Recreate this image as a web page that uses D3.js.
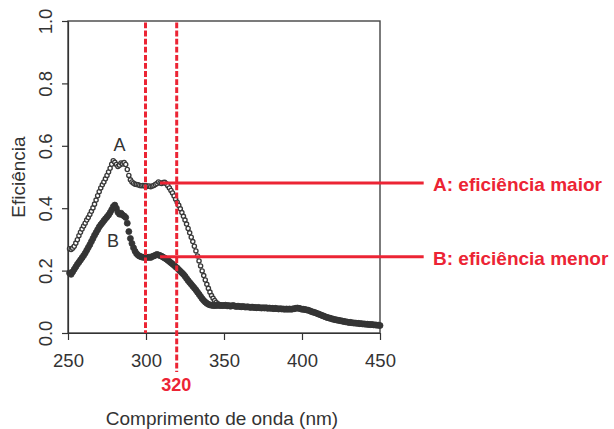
<!DOCTYPE html>
<html>
<head>
<meta charset="utf-8">
<script src="https://cdn.jsdelivr.net/npm/d3@7"></script>
<style>
  html, body { margin: 0; padding: 0; background: #fff; }
  svg { display: block; font-family: "Liberation Sans", Arial, Helvetica, sans-serif; }
</style>
</head>
<body>
<svg id="chart" width="614" height="429"></svg>
<script>
// ---------------- data ----------------
const wavelengths = d3.range(251, 451); // nm, 1 nm steps (251..450)

const seriesA = [
  .270,.268,.272,.278,.288,.299,.312,.323,.333,.343,
  .352,.362,.370,.380,.390,.401,.413,.426,.440,.453,
  .465,.475,.484,.494,.505,.516,.528,.541,.552,.547,
  .540,.534,.538,.545,.542,.546,.540,.524,.505,.491,
  .484,.480,.477,.476,.475,.473,.472,.473,.471,.472,
  .470,.471,.469,.471,.473,.476,.479,.484,.481,.479,
  .482,.483,.478,.472,.465,.457,.449,.439,.429,.419,
  .409,.398,.386,.374,.362,.349,.335,.321,.307,.293,
  .278,.263,.247,.231,.215,.199,.184,.170,.156,.143,
  .131,.120,.111,.104,.098,.094,.091,.089,.088,.088,
  .089,.087,.088,.086,.087,.088,.086,.085,.086,.085,
  .084,.085,.084,.083,.084,.083,.082,.083,.082,.082,
  .081,.082,.081,.080,.081,.080,.081,.079,.080,.079,
  .079,.078,.079,.078,.077,.078,.077,.077,.076,.077,
  .076,.077,.076,.077,.078,.079,.080,.079,.078,.076,
  .076,.075,.074,.073,.071,.069,.067,.066,.064,.062,
  .060,.058,.056,.054,.052,.050,.049,.047,.046,.044,
  .043,.042,.041,.040,.039,.038,.037,.036,.035,.034,
  .034,.033,.032,.032,.031,.031,.030,.030,.029,.029,
  .028,.028,.027,.027,.027,.026,.026,.025,.025,.024
];

const seriesB = [
  .192,.188,.196,.204,.212,.220,.227,.234,.241,.248,
  .256,.265,.274,.283,.293,.303,.313,.322,.331,.340,
  .347,.353,.360,.366,.372,.378,.386,.395,.405,.410,
  .400,.387,.381,.384,.378,.375,.370,.352,.325,.303,
  .287,.273,.262,.254,.249,.246,.244,.243,.242,.243,
  .242,.243,.242,.245,.247,.249,.252,.250,.248,.246,
  .243,.240,.237,.233,.229,.225,.221,.217,.212,.208,
  .203,.198,.193,.188,.182,.175,.168,.162,.156,.150,
  .144,.138,.131,.124,.117,.110,.104,.099,.095,.092,
  .090,.089,.088,.088,.088,.089,.088,.088,.088,.088,
  .089,.087,.088,.086,.087,.088,.086,.085,.086,.085,
  .084,.085,.084,.083,.084,.083,.082,.083,.082,.082,
  .081,.082,.081,.080,.081,.080,.081,.079,.080,.079,
  .079,.078,.079,.078,.077,.078,.077,.077,.076,.077,
  .076,.077,.076,.077,.078,.079,.080,.079,.078,.076,
  .076,.075,.074,.073,.071,.069,.067,.066,.064,.062,
  .060,.058,.056,.054,.052,.050,.049,.047,.046,.044,
  .043,.042,.041,.040,.039,.038,.037,.036,.035,.034,
  .034,.033,.032,.032,.031,.031,.030,.030,.029,.029,
  .028,.028,.027,.027,.027,.026,.026,.025,.025,.024
];

const xTicks = [250, 300, 350, 400, 450];
const yTicks = [0.0, 0.2, 0.4, 0.6, 0.8, 1.0];
const markedWavelengths = [300, 320];
const annotationLabels = ["A: eficiência maior", "B: eficiência menor"];
const annotationValues = [0.481, 0.244];
const curveLabels = ["A", "B"];
const curveLabelPos = [[283, 0.583], [278.8, 0.276]];
const xTitle = "Comprimento de onda (nm)";
const yTitle = "Eficiência";

// ---------------- layout ----------------
const svg = d3.select("#chart");
const L = 68, R = 380, T = 21, B = 333;
const ink = "#333333";
const red = "#ec2434";

const x = d3.scaleLinear().domain([250, 450]).range([L, R]);
const y = d3.scaleLinear().domain([0, 1]).range([B, T]);

// box
svg.append("rect")
  .attr("x", L).attr("y", T).attr("width", R - L).attr("height", B - T)
  .attr("fill", "none").attr("stroke", "#444").attr("stroke-width", 1.4);

// x axis
const gx = svg.append("g").attr("transform", `translate(0,${B})`)
  .call(d3.axisBottom(x).tickValues(xTicks).tickSize(7).tickSizeOuter(0));
gx.select(".domain").attr("stroke", ink).attr("stroke-width", 1.2);
gx.selectAll(".tick line").attr("stroke", ink).attr("stroke-width", 1.2);
gx.selectAll(".tick text")
  .attr("y", 33.5).attr("dy", null)
  .attr("fill", ink).attr("font-size", 18.5)
  .attr("font-family", "Liberation Sans, Arial, sans-serif");

// y axis
const gy = svg.append("g").attr("transform", `translate(${L},0)`)
  .call(d3.axisLeft(y).tickValues(yTicks).tickFormat(d3.format(".1f")).tickSize(6).tickSizeOuter(0));
gy.select(".domain").attr("stroke", ink).attr("stroke-width", 1.2);
gy.selectAll(".tick line").attr("stroke", ink).attr("stroke-width", 1.2);
gy.selectAll(".tick text")
  .attr("x", null).attr("y", null).attr("dy", null)
  .attr("transform", "translate(-16.5,0) rotate(-90)")
  .attr("text-anchor", "middle")
  .attr("fill", ink).attr("font-size", 18.5)
  .attr("font-family", "Liberation Sans, Arial, sans-serif");

// axis titles
svg.append("text")
  .attr("x", 222).attr("y", 424.5)
  .attr("text-anchor", "middle").attr("fill", ink).attr("font-size", 19)
  .text(xTitle);
svg.append("text")
  .attr("transform", `translate(25,${(T + B) / 2}) rotate(-90)`)
  .attr("text-anchor", "middle").attr("fill", ink).attr("font-size", 19)
  .text(yTitle);

// series
const dataA = wavelengths.map((w, i) => ({ w, v: seriesA[i] }));
const dataB = wavelengths.map((w, i) => ({ w, v: seriesB[i] }));

svg.append("g").selectAll("circle").data(dataA).join("circle")
  .attr("cx", d => x(d.w)).attr("cy", d => y(d.v)).attr("r", 2.1)
  .attr("fill", "#fff").attr("stroke", "#383838").attr("stroke-width", 1.35);

svg.append("g").selectAll("circle").data(dataB).join("circle")
  .attr("cx", d => x(d.w)).attr("cy", d => y(d.v)).attr("r", 3.0)
  .attr("fill", "#353535").attr("stroke", "#353535").attr("stroke-width", 0.8);

// curve labels
svg.append("g").selectAll("text").data(curveLabels).join("text")
  .attr("x", (d, i) => x(curveLabelPos[i][0]))
  .attr("y", (d, i) => y(curveLabelPos[i][1]))
  .attr("text-anchor", "middle").attr("fill", ink).attr("font-size", 18)
  .text(d => d);

// dashed red verticals
svg.append("g").selectAll("line").data(markedWavelengths).join("line")
  .attr("x1", d => x(d) - 0.5).attr("x2", d => x(d) - 0.5)
  .attr("y1", T + 1.5)
  .attr("y2", (d, i) => i === 1 ? 372 : B)
  .attr("stroke", red).attr("stroke-width", 3)
  .attr("stroke-dasharray", "5.8,2.3");

svg.append("text")
  .attr("x", x(320) - 1).attr("y", 391)
  .attr("text-anchor", "middle").attr("fill", red)
  .attr("font-size", 18).attr("font-weight", "bold")
  .text("320");

// red annotation lines + labels
const lineStartW = 309, lineEndW = 478;
svg.append("g").selectAll("line").data(annotationValues).join("line")
  .attr("x1", x(lineStartW)).attr("x2", x(lineEndW))
  .attr("y1", d => y(d)).attr("y2", d => y(d))
  .attr("stroke", red).attr("stroke-width", 3);

svg.append("g").selectAll("text").data(annotationLabels).join("text")
  .attr("x", 433)
  .attr("y", (d, i) => y(annotationValues[i]) + 8)
  .attr("fill", red).attr("font-size", 19).attr("font-weight", "bold")
  .text(d => d);
</script>
</body>
</html>
